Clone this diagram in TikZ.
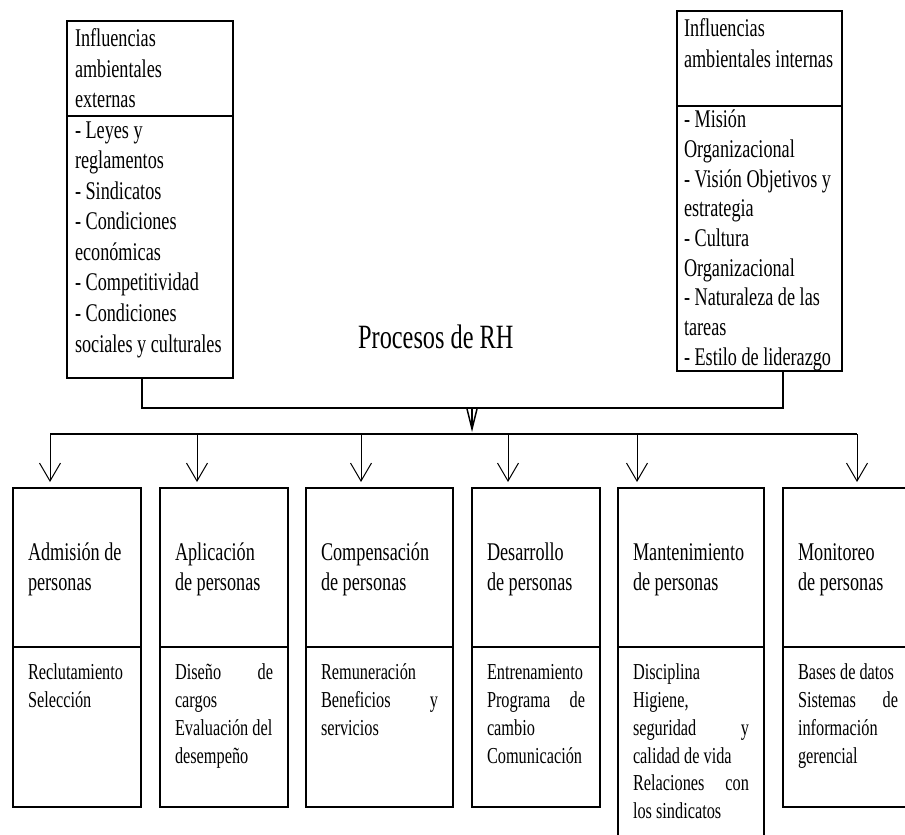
\documentclass[tikz,border=0pt]{standalone}
\usepackage{fontspec}
\setmainfont{Liberation Serif}
\usetikzlibrary{arrows.meta,calc,positioning}
\newcommand{\tallbox}[4][t]{\scalebox{1}[1.4]{\parbox[c][\dimexpr#3*10/14\relax][#1]{#2}{\strut#4}}}
\newcommand{\bigtxt}{\fontsize{18.2pt}{21.8pt}\selectfont}
\newcommand{\smalltxt}{\fontsize{16.3pt}{19.8pt}\selectfont}
\hyphenpenalty=10000
\begin{document}
\begin{tikzpicture}[x=1pt,y=-1pt,
	frame/.style={draw,line width=1.2pt,inner sep=0pt,outer sep=0pt,anchor=north west},
	procbox/.style={draw,line width=2pt,inner sep=0pt,outer sep=0pt,anchor=north west},
	bus/.style={line width=2pt},
	into/.style={line width=1pt,{Straight Barb[length=18pt,width=21pt]}-,shorten <=6pt}]
				\useasboundingbox (0,0) rectangle (905,835);
				\clip (0,0) rectangle (905,835);
				\node (extH) at (67,21) [frame,minimum width=166pt,minimum height=95pt,font=\bigtxt] {\tallbox{150pt}{86pt}{Influencias\\ambientales\\externas}};
				\node (extB) at (extH.south west) [frame,minimum width=166pt,minimum height=262pt,font=\bigtxt] {\tallbox{150pt}{260pt}{- Leyes y\\reglamentos\\- Sindicatos\\- Condiciones\\económicas\\- Competitividad\\- Condiciones\\sociales y culturales}};
				\node (intH) at (677,11) [frame,minimum width=165pt,minimum height=95pt,font=\bigtxt] {\tallbox{151pt}{86pt}{Influencias\\ambientales internas}};
				\node (intB) at (intH.south west) [frame,minimum width=165pt,minimum height=265pt,font={\fontsize{18.2pt}{21.2pt}\selectfont}] {\tallbox{151pt}{263pt}{- Misión\\Organizacional\\- Visión Objetivos y\\estrategia\\- Cultura\\Organizacional\\- Naturaleza de las\\tareas\\- Estilo de liderazgo}};
				\node (title) at (358,348) [anchor=base west,inner sep=0pt,font={\fontsize{24.3pt}{29pt}\selectfont}] {\scalebox{1}[1.4]{Procesos de RH}};
				% procesos
				\node (adm) at (13,488) [procbox,minimum width=128pt,minimum height=159pt,font=\bigtxt] {\tallbox[c]{98pt}{130pt}{Admisión de\\personas}};
				\node (apl) at (160,488) [procbox,minimum width=128pt,minimum height=159pt,font=\bigtxt] {\tallbox[c]{98pt}{130pt}{Aplicación\\de personas}};
				\node (com) at (306,488) [procbox,minimum width=147pt,minimum height=159pt,font=\bigtxt] {\tallbox[c]{117pt}{130pt}{Compensación\\de personas}};
				\node (des) at (472,488) [procbox,minimum width=128pt,minimum height=159pt,font=\bigtxt] {\tallbox[c]{98pt}{130pt}{Desarrollo\\de personas}};
				\node (man) at (618,488) [procbox,minimum width=146pt,minimum height=159pt,font=\bigtxt] {\tallbox[c]{116pt}{130pt}{Mantenimiento\\de personas}};
				\node (mon) at (783,488) [procbox,minimum width=130pt,minimum height=159pt,font=\bigtxt] {\tallbox[c]{100pt}{130pt}{Monitoreo\\de personas}};
				\node (admB) at (adm.south west) [procbox,minimum width=128pt,minimum height=160pt,font=\smalltxt] {\tallbox{98pt}{133pt}{Reclutamiento\\Selección}};
				\node (aplB) at (apl.south west) [procbox,minimum width=128pt,minimum height=160pt,font=\smalltxt] {\tallbox{98pt}{133pt}{Diseño \hfill de\\cargos\\Evaluación del\\desempeño}};
				\node (comB) at (com.south west) [procbox,minimum width=147pt,minimum height=160pt,font=\smalltxt] {\tallbox{117pt}{133pt}{Remuneración\\Beneficios \hfill y\\servicios}};
				\node (desB) at (des.south west) [procbox,minimum width=128pt,minimum height=160pt,font=\smalltxt] {\tallbox{98pt}{133pt}{Entrenamiento\\Programa \hfill de\\cambio\\Comunicación}};
				\node (manB) at (man.south west) [procbox,minimum width=146pt,minimum height=203pt,font=\smalltxt] {\tallbox{116pt}{176pt}{Disciplina\\Higiene,\\seguridad \hfill y\\calidad de vida\\Relaciones \hfill con\\los sindicatos}};
				\node (monB) at (mon.south west) [procbox,minimum width=130pt,minimum height=160pt,font=\smalltxt] {\tallbox{100pt}{133pt}{Bases de datos\\Sistemas \hfill de\\información\\gerencial}};
				\coordinate (J) at (472,408);
				\coordinate (B) at (472,434);
				\coordinate (S1) at ($(extB.south)+(-8,0)$);
				\coordinate (S2) at ($(intB.south)+(23.5,0)$);
				\draw[bus] (S1) -- (S1|-J) -- (S2|-J) -- (S2);
				\draw[line width=1.5pt,-{Straight Barb[length=20pt,width=10pt]},shorten >=2pt] (J) -- (B);
				\draw[into] ($(adm.north west)+(37,0)$) coordinate (T1) -- (T1|-B);
				\draw[into] ($(apl.north west)+(37,0)$) coordinate (T2) -- (T2|-B);
				\draw[into] ($(com.north west)+(55,0)$) coordinate (T3) -- (T3|-B);
				\draw[into] ($(des.north west)+(36,0)$) coordinate (T4) -- (T4|-B);
				\draw[into] ($(man.north west)+(19,0)$) coordinate (T5) -- (T5|-B);
				\draw[into] ($(mon.north west)+(74,0)$) coordinate (T6) -- (T6|-B);
				\draw[bus] (T1|-B) -- (T6|-B);
\end{tikzpicture}
\end{document}
